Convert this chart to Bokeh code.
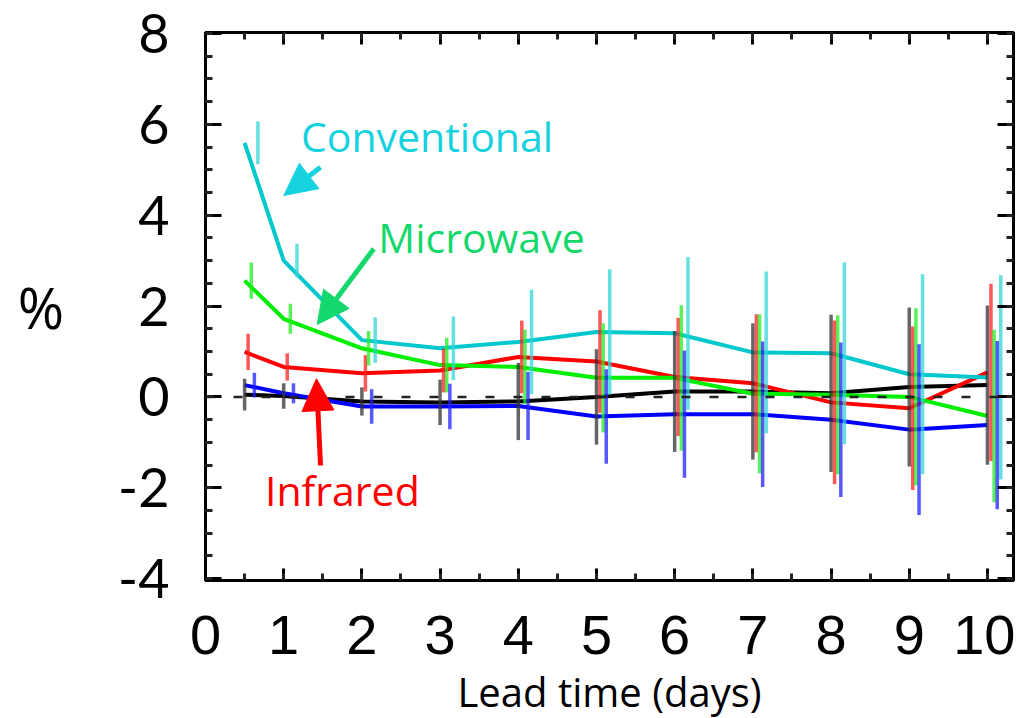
from bokeh.plotting import figure
from bokeh.models import (Range1d, LinearAxis, Span, Label, Arrow, NormalHead,
                          ColumnDataSource, SingleIntervalTicker, CustomJSTickFormatter)
from bokeh.embed import file_html
from bokeh.resources import INLINE

# ---------------- data ----------------
days = [0.5, 1, 2, 3, 4, 5, 6, 7, 8, 9, 10]
x_tick_values = [0, 1, 2, 3, 4, 5, 6, 7, 8, 9, 10]
x_tick_labels = ["0", "1", "2", "3", "4", "5", "6", "7", "8", "9", "10"]
y_tick_values = [-4, -2, 0, 2, 4, 6, 8]
y_tick_labels = ["-4", "-2", "0", "2", "4", "6", "8"]

black = [0.05, 0.02, -0.10, -0.12, -0.10, 0.00, 0.12, 0.12, 0.08, 0.22, 0.26]
black_err = [0.35, 0.28, 0.31, 0.50, 0.85, 1.05, 1.33, 1.50, 1.73, 1.75, 1.75]

red = [0.99, 0.66, 0.52, 0.58, 0.88, 0.78, 0.44, 0.30, -0.12, -0.25, 0.54]
red_err = [0.40, 0.30, 0.40, 0.48, 0.80, 1.13, 1.30, 1.52, 1.80, 1.80, 1.95]

green = [2.56, 1.72, 1.07, 0.70, 0.66, 0.42, 0.42, 0.07, 0.05, 0.00, -0.42]
green_err = [0.40, 0.33, 0.38, 0.60, 0.82, 1.20, 1.60, 1.75, 1.75, 1.95, 1.90]

blue = [0.26, 0.08, -0.21, -0.21, -0.20, -0.43, -0.38, -0.38, -0.50, -0.72, -0.62]
blue_err = [0.27, 0.22, 0.38, 0.50, 0.75, 1.04, 1.40, 1.60, 1.70, 1.88, 1.85]

cyan = [5.59, 3.00, 1.25, 1.07, 1.21, 1.43, 1.40, 0.98, 0.96, 0.50, 0.43]
cyan_err = [0.47, 0.37, 0.50, 0.70, 1.15, 1.38, 1.68, 1.78, 2.00, 2.20, 2.25]

series = [
    ("black", black, black_err, "#000000", "#333333", 0.000),
    ("red", red, red_err, "#ff0000", "#ff2020", 0.045),
    ("green", green, green_err, "#00ee00", "#22ee22", 0.085),
    ("blue", blue, blue_err, "#0000ff", "#2020ff", 0.125),
    ("cyan", cyan, cyan_err, "#00c8cc", "#30d4d8", 0.170),
]

# annotation texts (data units, vertically centred)
ann_text = ["Conventional", "Microwave", "Infrared"]
ann_x = [1.22, 2.21, 0.76]
ann_y = [5.75, 3.53, -2.04]
ann_color = ["#16d2e0", "#14d86c", "#ff0000"]
arrow_start = [(1.471, 5.056), (2.152, 3.26), (1.471, -1.509)]
arrow_end = [(1.001, 4.433), (1.428, 1.594), (1.419, 0.399)]

# ---------------- figure ----------------
p = figure(frame_width=808, frame_height=548,
           x_range=Range1d(0, 10.333), y_range=Range1d(-4.04, 8.02),
           output_backend="svg", toolbar_location=None,
           min_border_left=205, min_border_top=32, min_border_right=2,
           min_border_bottom=10, background_fill_color="white",
           border_fill_color="white")
p.xgrid.visible = False
p.ygrid.visible = False
p.outline_line_color = "black"
p.outline_line_width = 3

xt = SingleIntervalTicker(interval=1, num_minor_ticks=2)
yt = SingleIntervalTicker(interval=2, num_minor_ticks=4)
blank = CustomJSTickFormatter(code="return ''")

xa = p.xaxis[0]
xa.ticker = xt
xa.axis_label = "Lead time (days)"
xa.axis_label_text_font = "Open Sans"
xa.axis_label_text_font_size = "40px"
xa.axis_label_text_font_style = "normal"
xa.axis_label_standoff = 7
xa.major_label_text_font = "Liberation Sans"
xa.major_label_text_font_size = "56px"
xa.major_label_standoff = 35
xa.major_label_overrides = dict(zip(x_tick_values, x_tick_labels))

ya = p.yaxis[0]
ya.ticker = yt
ya.axis_label = "%"
ya.axis_label_orientation = "horizontal"
ya.axis_label_text_baseline = "alphabetic"
ya.axis_label_text_font = "Open Sans"
ya.axis_label_text_font_size = "56px"
ya.axis_label_text_font_style = "normal"
ya.axis_label_standoff = 51
ya.major_label_text_font = "Lato"
ya.major_label_text_font_size = "54px"
ya.major_label_standoff = 36
ya.major_label_overrides = dict(zip(y_tick_values, y_tick_labels))

top = LinearAxis(ticker=xt, formatter=blank, major_label_standoff=0)
right = LinearAxis(ticker=yt, formatter=blank, major_label_standoff=0)
p.add_layout(top, "above")
p.add_layout(right, "right")

for ax in [xa, top]:
    ax.major_tick_in = 12
    ax.major_tick_out = 0
    ax.minor_tick_in = 7
    ax.minor_tick_out = 0
for ax in [ya, right]:
    ax.major_tick_in = 16
    ax.major_tick_out = 0
    ax.minor_tick_in = 7
    ax.minor_tick_out = 0
for ax in [xa, ya, top, right]:
    ax.axis_line_width = 3
    ax.axis_line_color = "black"
    ax.major_tick_line_width = 3
    ax.minor_tick_line_width = 3
    ax.major_tick_line_color = "black"
    ax.minor_tick_line_color = "#222222"
    ax.major_label_text_color = "black"
    ax.axis_label_text_color = "black"

# zero dashed line
p.add_layout(Span(location=0, dimension="width", line_color="#222222",
                  line_width=2.5, line_dash="9 19"))

# lines
for name, vals, errs, col, bcol, off in series:
    p.line(days, vals, line_color=col, line_width=4)

# error bars
for name, vals, errs, col, bcol, off in series:
    src = ColumnDataSource(dict(
        x=[d + off for d in days],
        lo=[v - e for v, e in zip(vals, errs)],
        hi=[v + e for v, e in zip(vals, errs)],
    ))
    p.segment(x0="x", y0="lo", x1="x", y1="hi", source=src,
              line_color=bcol, line_width=3.5, line_alpha=0.75)

# annotations
for t, x, y, c in zip(ann_text, ann_x, ann_y, ann_color):
    p.add_layout(Label(x=x, y=y, text=t, text_color=c, text_font="Open Sans",
                       text_font_size="41px", text_align="left",
                       text_baseline="middle"))
for (xs, ys), (xe, ye), c in zip(arrow_start, arrow_end, ann_color):
    p.add_layout(Arrow(end=NormalHead(size=32, fill_color=c, line_color=c),
                       x_start=xs, y_start=ys, x_end=xe, y_end=ye,
                       line_color=c, line_width=5))

open("out.html", "w").write(file_html(p, INLINE))
